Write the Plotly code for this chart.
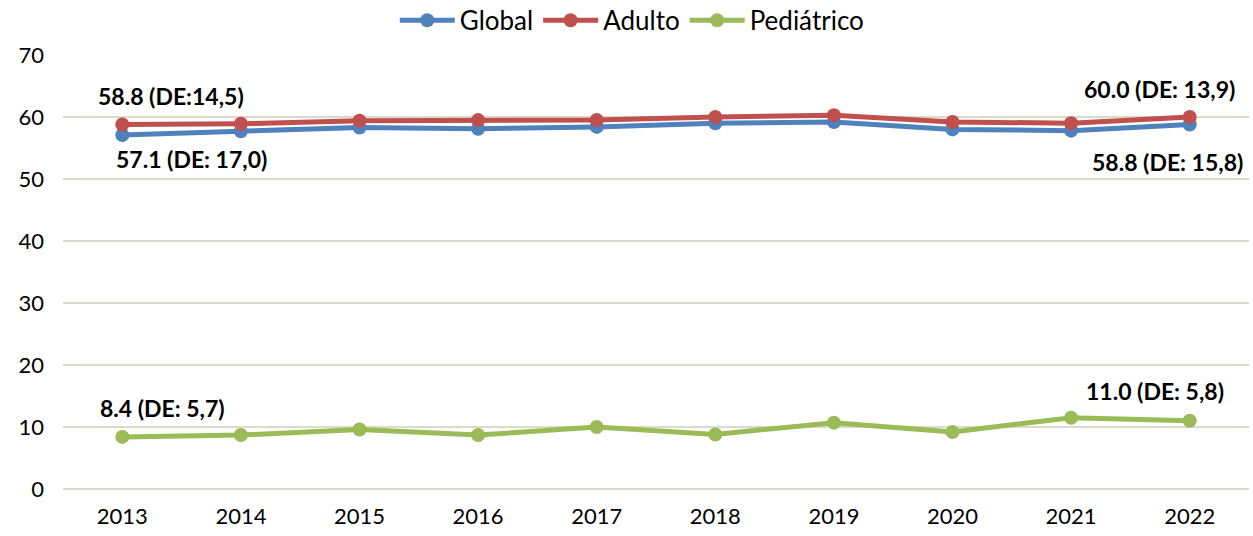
import plotly.graph_objects as go

years = ["2013", "2014", "2015", "2016", "2017", "2018", "2019", "2020", "2021", "2022"]
global_vals = [57.1, 57.7, 58.3, 58.1, 58.4, 59.0, 59.2, 58.0, 57.8, 58.8]
adulto_vals = [58.8, 58.9, 59.4, 59.5, 59.5, 60.0, 60.3, 59.2, 59.0, 60.0]
pediatrico_vals = [8.4, 8.7, 9.6, 8.7, 10.0, 8.8, 10.7, 9.2, 11.5, 11.0]

series_names = ["Global", "Adulto", "Pediátrico"]
colors = ["#4F81BD", "#C0504D", "#9BBB59"]

# label texts: (series index, point index, text, xshift, yshift, xanchor)
labels = [
    (1, 0, "58.8 (DE:14,5)", -26, 28, "left"),
    (0, 0, "57.1 (DE: 17,0)", -8, -24, "left"),
    (1, 9, "60.0 (DE: 13,9)", 47, 28, "right"),
    (0, 9, "58.8 (DE: 15,8)", 55, -38, "right"),
    (2, 0, "8.4 (DE: 5,7)", -24, 29, "left"),
    (2, 9, "11.0 (DE: 5,8)", 36, 30, "right"),
]

all_vals = [global_vals, adulto_vals, pediatrico_vals]

fig = go.Figure()
for name, vals, c in zip(series_names, all_vals, colors):
    fig.add_trace(go.Scatter(
        x=years, y=vals, name=name, mode="lines+markers",
        line=dict(color=c, width=5),
        marker=dict(color=c, size=14),
    ))

for si, pi, txt, xs, ys, xa in labels:
    fig.add_annotation(
        x=pi, y=all_vals[si][pi], xref="x", yref="y", text="<b>" + txt + "</b>",
        showarrow=False, xshift=xs, yshift=ys, xanchor=xa, yanchor="middle",
        font=dict(family="Lato", size=23, color="#000000"),
    )

fig.update_layout(
    width=1253, height=536,
    margin=dict(l=63, r=4, t=55, b=47, autoexpand=False),
    plot_bgcolor="white", paper_bgcolor="white",
    font=dict(family="Lato", size=22, color="#000000"),
    showlegend=True,
    legend=dict(orientation="h", x=0.48, xanchor="center", y=0.962, yanchor="middle",
                yref="container",
                font=dict(family="Lato", size=26), tracegroupgap=0, itemwidth=55,
                bgcolor="rgba(0,0,0,0)"),
    xaxis=dict(type="category", range=[-0.5, 9.5], showgrid=False, zeroline=False,
               showline=False, ticks="", ticklabelstandoff=12),
    yaxis=dict(range=[0, 70], dtick=10, showgrid=True, gridcolor="#DCDAC8", gridwidth=1.5,
               zeroline=True, zerolinecolor="#DCDAC8", zerolinewidth=1.5,
               showline=False, ticks="", ticklabelstandoff=18),
)

fig.write_html("out.html", config={"displayModeBar": False},
               post_script="document.body.style.margin='0';")
